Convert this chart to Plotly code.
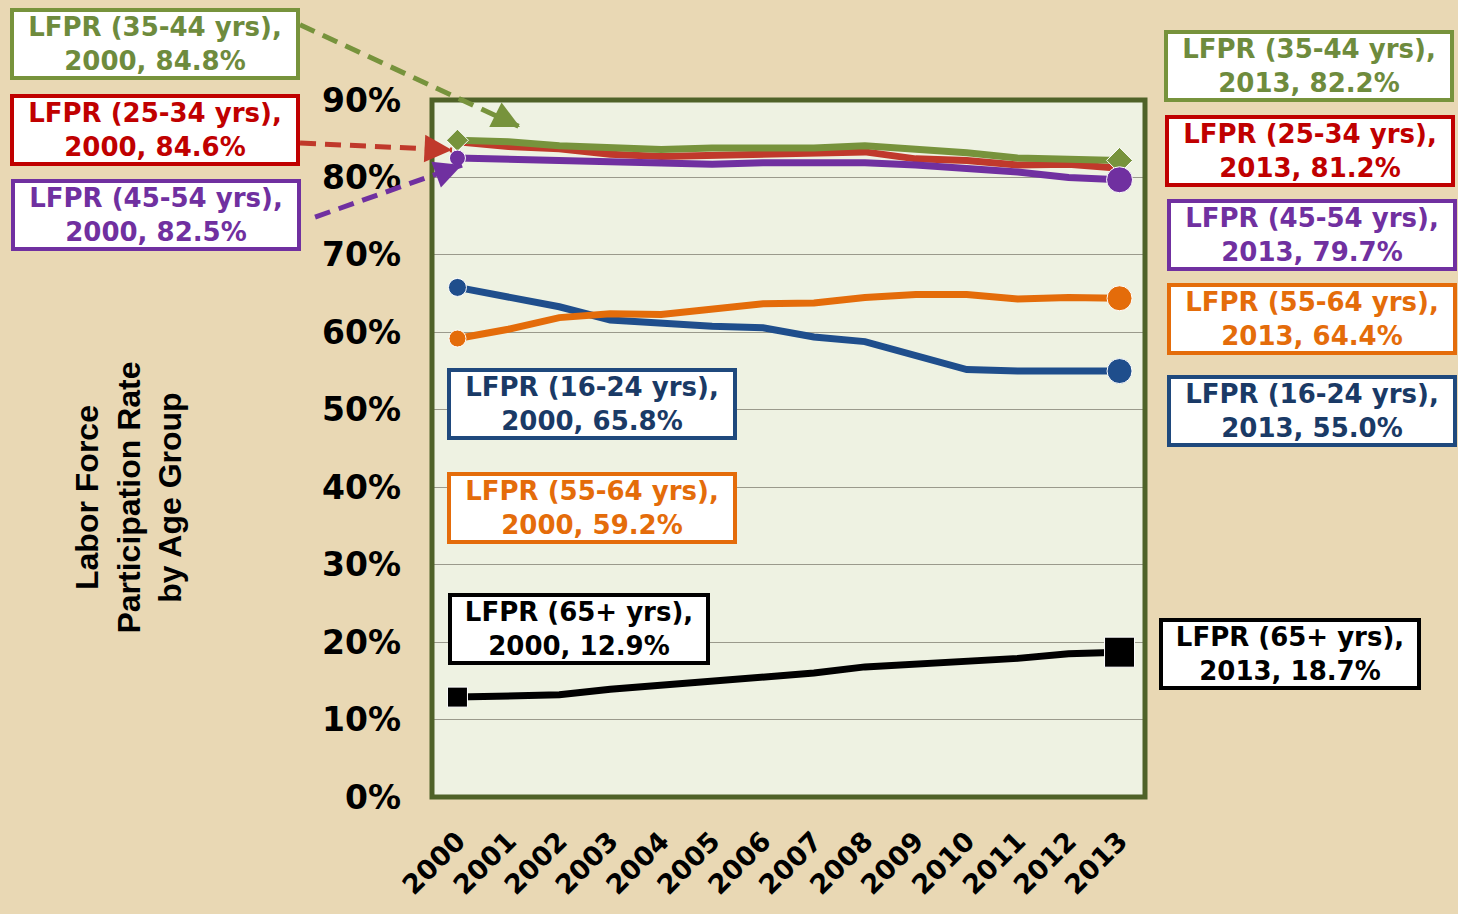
import plotly.graph_objects as go

YEARS = [str(y) for y in range(2000, 2014)]

LFPR_16_24 = [65.8, 64.5, 63.3, 61.6, 61.1, 60.8, 60.6, 59.4, 58.8, 56.9, 55.2, 55.0, 54.9, 55.0]
LFPR_25_34 = [84.6, 84.0, 83.7, 83.0, 82.7, 82.8, 82.9, 83.0, 83.3, 82.4, 82.2, 81.6, 81.7, 81.2]
LFPR_35_44 = [84.8, 84.6, 84.1, 83.9, 83.6, 83.8, 83.8, 83.8, 84.1, 83.7, 83.2, 82.5, 82.4, 82.2]
LFPR_45_54 = [82.5, 82.3, 82.1, 82.1, 81.8, 81.7, 81.9, 81.9, 81.9, 81.6, 81.2, 80.7, 80.0, 79.7]
LFPR_55_64 = [59.2, 60.4, 61.9, 62.4, 62.3, 62.9, 63.7, 63.8, 64.5, 64.9, 64.9, 64.3, 64.5, 64.4]
LFPR_65_UP = [12.9, 13.0, 13.2, 13.9, 14.4, 15.1, 15.4, 16.0, 16.8, 17.2, 17.4, 17.9, 18.5, 18.7]

GROUPS = ["16-24 yrs", "25-34 yrs", "35-44 yrs", "45-54 yrs", "55-64 yrs", "65+ yrs"]

Y_TICKS = list(range(0, 100, 10))

PAPER_BG = "#E9D8B4"
PLOT_BG = "#EEF2E2"
FRAME = "#4F6228"

# style per group: line colour, label colour, box border, end marker symbol, end marker sizes
STYLE = {
    "16-24 yrs": dict(line="#1F4E8C", text="#1A3A66", border="#1F497D", symbol="circle", sizes=(18, 25)),
    "25-34 yrs": dict(line="#C0392B", text="#C00000", border="#C00000", symbol=None, sizes=(0, 0)),
    "35-44 yrs": dict(line="#77933C", text="#6E8B3D", border="#77933C", symbol="diamond", sizes=(17, 20)),
    "45-54 yrs": dict(line="#7030A0", text="#7030A0", border="#7030A0", symbol="circle", sizes=(16, 26)),
    "55-64 yrs": dict(line="#E46C0A", text="#E46C0A", border="#E46C0A", symbol="circle", sizes=(17, 25)),
    "65+ yrs": dict(line="#000000", text="#000000", border="#000000", symbol="square", sizes=(20, 30)),
}

SERIES = {
    "16-24 yrs": LFPR_16_24,
    "25-34 yrs": LFPR_25_34,
    "35-44 yrs": LFPR_35_44,
    "45-54 yrs": LFPR_45_54,
    "55-64 yrs": LFPR_55_64,
    "65+ yrs": LFPR_65_UP,
}

# label box placement (paper coords): start label, end label
LABEL_POS = {
    "35-44 yrs": ((-0.3885, 1.0803), (1.230, 1.0488)),
    "25-34 yrs": ((-0.3885, 0.957), (1.2314, 0.9268)),
    "45-54 yrs": ((-0.387, 0.835), (1.234, 0.8063)),
    "55-64 yrs": ((0.2244, 0.4146), (1.234, 0.6858)),
    "16-24 yrs": ((0.2244, 0.5638), (1.234, 0.5538)),
    "65+ yrs": ((0.2062, 0.241), (1.2034, 0.2052)),
}
LABEL_WIDTH = {"65+ yrs": (254, 254)}

# dashed leader arrows from the left boxes: (start, end, head offset px)
ARROWS = {
    "35-44 yrs": ((-0.1851, 1.108), (0.1234, 0.9613), (-18, -9)),
    "25-34 yrs": ((-0.1851, 0.9383), (0.0281, 0.9283), (-20, -1)),
    "45-54 yrs": ((-0.164, 0.832), (0.042, 0.9067), (-19, 7)),
}

DRAW_ORDER = ["25-34 yrs", "35-44 yrs", "45-54 yrs", "16-24 yrs", "55-64 yrs", "65+ yrs"]

fig = go.Figure()

for group in DRAW_ORDER:
    vals = SERIES[group]
    st = STYLE[group]
    fig.add_trace(
        go.Scatter(
            x=YEARS,
            y=vals,
            mode="lines",
            line=dict(color=st["line"], width=7),
            hoverinfo="skip",
            showlegend=False,
        )
    )
    if st["symbol"]:
        fig.add_trace(
            go.Scatter(
                x=[YEARS[0], YEARS[-1]],
                y=[vals[0], vals[-1]],
                mode="markers",
                marker=dict(symbol=st["symbol"], size=list(st["sizes"]), color=st["line"], opacity=1),
                hoverinfo="skip",
                showlegend=False,
            )
        )

annotations = []
shapes = [
    dict(type="rect", xref="paper", yref="paper", x0=0, x1=1, y0=0, y1=1,
         line=dict(color=FRAME, width=5), layer="above"),
]

for group in GROUPS:
    vals = SERIES[group]
    st = STYLE[group]
    (sx, sy), (ex, ey) = LABEL_POS[group]
    w0, w1 = LABEL_WIDTH.get(group, (282, 282))
    for (px, py), year, val, w in (((sx, sy), YEARS[0], vals[0], w0), ((ex, ey), YEARS[-1], vals[-1], w1)):
        annotations.append(dict(
            xref="paper", yref="paper", x=px, y=py, xanchor="center", yanchor="middle",
            text=f"<b>LFPR ({group}),<br>{year}, {val:.1f}%</b>",
            showarrow=False, align="center",
            font=dict(family="DejaVu Sans", size=26, color=st["text"]),
            bgcolor="white", bordercolor=st["border"],
            borderwidth=4, borderpad=0, width=w,
        ))

for group, (start, end, head) in ARROWS.items():
    col = STYLE[group]["line"]
    shapes.append(dict(
        type="line", xref="paper", yref="paper",
        x0=start[0], y0=start[1], x1=end[0], y1=end[1],
        line=dict(color=col, width=5, dash="16px,9px"),
    ))
    annotations.append(dict(
        xref="paper", yref="paper", x=end[0], y=end[1], ax=head[0], ay=head[1],
        text="", showarrow=True, arrowhead=2, arrowsize=1.1, arrowwidth=5,
        arrowcolor=col, standoff=0,
    ))

annotations.append(dict(
    xref="paper", yref="paper", x=-0.426, y=0.43, xanchor="center", yanchor="middle",
    text="<b>Labor Force<br>Participation Rate<br>by Age Group</b>",
    textangle=-90, showarrow=False,
    font=dict(family="Liberation Sans, Arial", size=32, color="black"),
))

fig.update_layout(
    width=1458,
    height=914,
    margin=dict(l=432, r=313, t=100, b=117),
    paper_bgcolor=PAPER_BG,
    plot_bgcolor=PLOT_BG,
    showlegend=False,
    annotations=annotations,
    shapes=shapes,
)
fig.update_xaxes(
    type="category",
    range=[-0.5, 13.5],
    showgrid=False,
    tickangle=-45,
    ticklabelstandoff=22,
    tickfont=dict(family="DejaVu Sans", size=27, color="black", weight="bold"),
    ticks="",
)
fig.update_yaxes(
    range=[0, 90],
    tickvals=Y_TICKS,
    ticktext=[f"{v}%" for v in Y_TICKS],
    showgrid=True,
    gridcolor="#9A9A8C",
    gridwidth=1,
    zeroline=False,
    ticks="",
    ticklabelstandoff=30,
    tickfont=dict(family="DejaVu Sans", size=33, color="black", weight="bold"),
)

fig.write_html(
    "out.html",
    config={"displayModeBar": False},
    post_script="document.body.style.margin = '0';",
)
